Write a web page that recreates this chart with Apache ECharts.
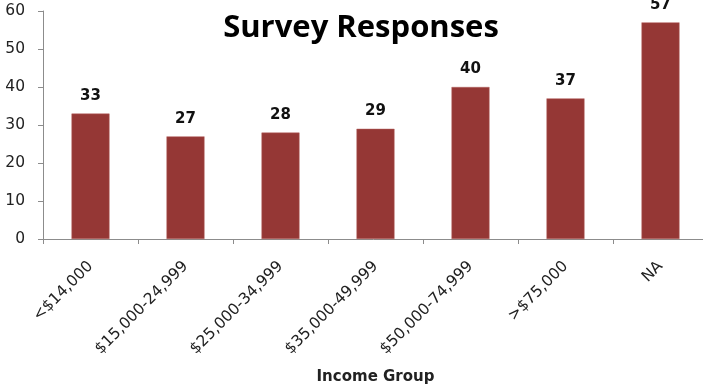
<!DOCTYPE html>
<html>
<head>
<meta charset="utf-8">
<script src="https://cdn.jsdelivr.net/npm/echarts@6/dist/echarts.min.js"></script>
<style>html,body{margin:0;padding:0;background:#fff}#c{width:703px;height:388px}</style>
</head>
<body>
<div id="c"></div>
<script>
var categories = ['<$14,000', '$15,000-24,999', '$25,000-34,999', '$35,000-49,999', '$50,000-74,999', '>$75,000', 'NA'];
var responses = [33, 27, 28, 29, 40, 37, 57];
var yTicks = [0, 10, 20, 30, 40, 50, 60];

var chart = echarts.init(document.getElementById('c'));
chart.setOption({
  animation: false,
  title: {
    text: 'Survey Responses',
    left: 356, top: 8, textAlign: 'center',
    textStyle: {fontFamily: 'Open Sans', fontWeight: 'bold', fontSize: 31, color: '#000'}
  },
  grid: {left: 43, top: 11, width: 665, height: 228, containLabel: false, outerBoundsMode: 'none'},
  xAxis: {
    type: 'category',
    data: categories,
    name: 'Income Group',
    nameLocation: 'middle',
    nameGap: 131,
    nameTextStyle: {fontFamily: 'DejaVu Sans', fontWeight: 'bold', fontSize: 15, color: '#222'},
    axisLine: {lineStyle: {color: '#8c8c8c', width: 1}},
    axisTick: {show: true, alignWithLabel: false, length: 5, lineStyle: {color: '#8c8c8c'}},
    axisLabel: {rotate: 45, margin: 25,
      fontFamily: 'DejaVu Sans', fontSize: 15.5, color: '#222', interval: 0}
  },
  yAxis: {
    type: 'value',
    min: 0, max: 60, interval: 10,
    axisLine: {show: true, lineStyle: {color: '#8c8c8c'}},
    axisTick: {show: true, length: 5, lineStyle: {color: '#8c8c8c'}},
    splitLine: {show: false},
    axisLabel: {margin: 18, fontFamily: 'DejaVu Sans', fontSize: 15.5, color: '#222',
      formatter: function (v) { return yTicks.indexOf(v) >= 0 ? String(v) : ''; }}
  },
  series: [{
    type: 'bar',
    data: responses,
    barWidth: 38,
    itemStyle: {color: '#953735', borderColor: '#b5605e', borderWidth: 0.5},
    label: {show: true, position: 'top', distance: 10, fontFamily: 'DejaVu Sans', fontWeight: 'bold', fontSize: 15, color: '#111'}
  }]
});
</script>
</body>
</html>
